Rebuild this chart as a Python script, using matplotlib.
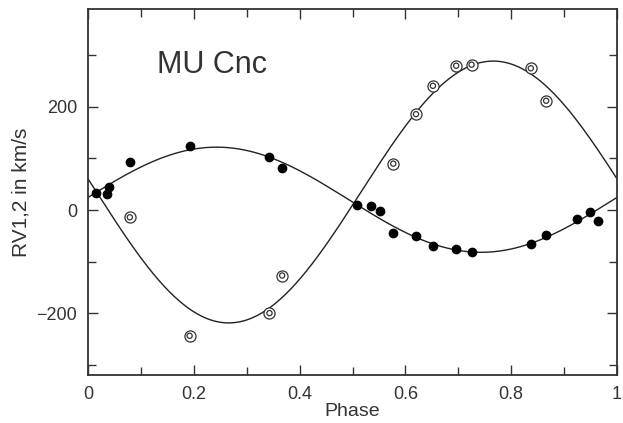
import numpy as np
import matplotlib
matplotlib.use("Agg")
from matplotlib import pyplot as plt
from matplotlib.ticker import MultipleLocator

plt.rcParams['font.family'] = ['Liberation Sans', 'DejaVu Sans']

# primary star (filled dots)
phase1 = [0.015, 0.035, 0.040, 0.079, 0.192, 0.342, 0.367, 0.509, 0.534, 0.552,
          0.577, 0.620, 0.652, 0.695, 0.725, 0.837, 0.866, 0.924, 0.948, 0.964]
rv1 = [34, 32, 45, 94, 124, 102, 81, 10, 8, -2,
       -44, -51, -70, -76, -81, -66, -49, -17, -3, -22]

# secondary star (double circles)
phase2 = [0.079, 0.192, 0.343, 0.367, 0.577, 0.620, 0.652, 0.696, 0.725, 0.837, 0.866]
rv2 = [-14, -244, -200, -127, 90, 186, 241, 280, 282, 275, 212]

# fitted orbit: systemic velocity, semi-amplitude, phase of max velocity
gamma1, K1, phmax1 = 20, 102, 0.243
gamma2, K2, phmax2 = 35, 254, 0.766

ph = np.linspace(0, 1, 400)
fit1 = gamma1 + K1 * np.cos(2 * np.pi * (ph - phmax1))
fit2 = gamma2 + K2 * np.cos(2 * np.pi * (ph - phmax2))

fig = plt.figure(figsize=(6.23, 4.23), dpi=100)
ax = fig.add_axes([0.1413, 0.1135, 0.8491, 0.8652])

ax.plot(ph, fit1, color="#222222", lw=1.0)
ax.plot(ph, fit2, color="#222222", lw=1.0)

ax.scatter(phase1, rv1, s=36, color="black", zorder=3)
ax.scatter(phase2, rv2, s=64, facecolor="white", edgecolor="#333333", lw=0.9, zorder=3)
ax.scatter(phase2, rv2, s=14, facecolor="none", edgecolor="#333333", lw=0.9, zorder=4)

ax.set_xlim(0, 1)
ax.set_ylim(-320, 390)
ax.xaxis.set_minor_locator(MultipleLocator(0.1))
ax.yaxis.set_minor_locator(MultipleLocator(100))
ax.set_xticks([0, 0.2, 0.4, 0.6, 0.8, 1.0])
ax.set_xticklabels(["0", "0.2", "0.4", "0.6", "0.8", "1"])
ax.set_yticks([-200, 0, 200])
ax.set_yticklabels(["\u2212200", "0", "200"])
ax.tick_params(which="both", direction="in", top=True, right=True,
               labelsize=13, colors="#333333", width=1.0)
ax.tick_params(which="major", length=7, pad=8)
ax.tick_params(which="minor", length=6)
for s in ax.spines.values():
    s.set_linewidth(1.3)
    s.set_color("#333333")

ax.set_xlabel("Phase", fontsize=14, color="#333333", labelpad=0)
ax.set_ylabel("RV1,2 in km/s", fontsize=15, color="#333333", labelpad=4)
ax.text(0.13, 282, "MU Cnc", fontsize=22, color="#333333", va="center")

fig.savefig("out.png", dpi=100)
